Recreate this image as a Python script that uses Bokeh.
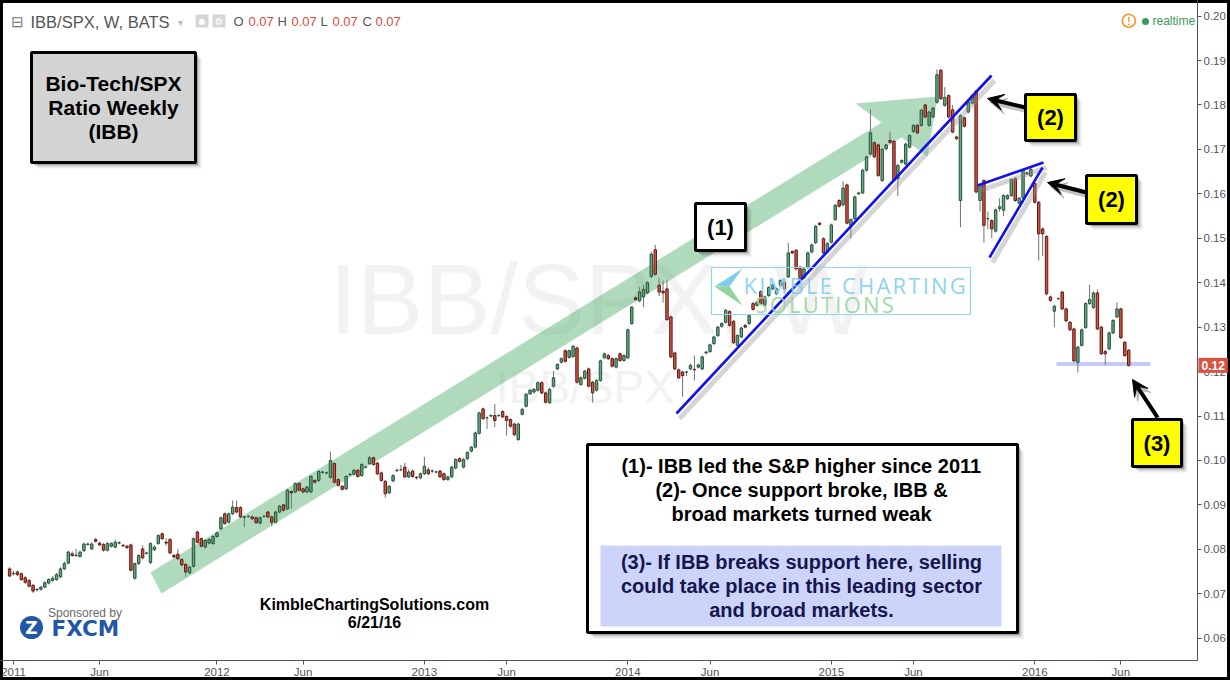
import numpy as np
from bokeh.plotting import figure
from bokeh.models import Range1d, FixedTicker, NumeralTickFormatter, Label, Arrow, VeeHead
from bokeh.core.properties import value
from bokeh.embed import file_html
from bokeh.resources import INLINE
try:
    from bokeh.models import GlobalInlineStyleSheet
except ImportError:
    GlobalInlineStyleSheet = None

# ---------------- data (weekly IBB/SPX ratio, from late Dec 2010 to 20 Jun 2016) ----------------
open_ = [.0756,.0745,.0749,.0745,.0736,.0730,.0719,.0709,.0710,.0715,.0724,.0730,.0732,.0738,.0756,.0769,.0790,.0786,.0784,.0797,
         .0811,.0801,.0822,.0814,.0811,.0798,.0807,.0805,.0814,.0809,.0807,.0810,.0735,.0768,.0801,.0791,.0770,.0799,.0813,.0835,
         .0816,.0822,.0786,.0789,.0777,.0766,.0747,.0762,.0839,.0824,.0805,.0814,.0813,.0829,.0846,.0880,.0861,.0880,.0894,.0894,
         .0872,.0874,.0873,.0871,.0859,.0874,.0884,.0873,.0861,.0884,.0900,.0891,.0930,.0929,.0948,.0936,.0929,.0929,.0955,.0955,
         .0973,.0972,.0962,.0993,.0957,.0942,.0936,.0968,.0969,.0978,.0966,.0985,.0993,.1006,.0994,.0972,.0953,.0927,.0954,.0977,
         .0979,.0985,.0963,.0976,.0962,.0961,.0970,.0979,.0976,.0974,.0976,.0970,.0957,.0963,.0983,.1004,.0985,.1004,.1021,.1030,
         .1061,.1116,.1096,.1100,.1101,.1101,.1110,.1099,.1092,.1082,.1047,.1104,.1122,.1150,.1154,.1158,.1175,.1152,.1130,.1167,
         .1206,.1221,.1247,.1232,.1234,.1253,.1171,.1185,.1206,.1176,.1158,.1180,.1231,.1236,.1229,.1210,.1240,.1225,.1231,.1308,
         .1366,.1359,.1368,.1377,.1414,.1474,.1394,.1381,.1386,.1323,.1242,.1204,.1199,.1199,.1206,.1205,.1210,.1206,.1242,.1245,
         .1263,.1281,.1302,.1311,.1335,.1313,.1259,.1278,.1304,.1308,.1353,.1349,.1380,.1349,.1371,.1386,.1375,.1394,.1401,.1413,
         .1470,.1473,.1435,.1411,.1434,.1469,.1490,.1534,.1499,.1469,.1491,.1542,.1585,.1575,.1620,.1529,.1544,.1600,.1602,.1653,
         .1690,.1715,.1710,.1630,.1701,.1720,.1718,.1634,.1671,.1667,.1705,.1740,.1754,.1754,.1800,.1754,.1773,.1806,.1878,.1799,
         .1821,.1789,.1728,.1585,.1771,.1784,.1804,.1831,.1585,.1630,.1544,.1540,.1516,.1567,.1563,.1589,.1596,.1634,.1579,.1591,
         .1647,.1640,.1623,.1581,.1521,.1504,.1368,.1336,.1364,.1379,.1341,.1311,.1296,.1221,.1259,.1299,.1353,.1344,.1377,.1300,
         .1245,.1251,.1287,.1323,.1341,.1266,.1248]
high = [.0760,.0752,.0753,.0748,.0740,.0733,.0722,.0713,.0718,.0728,.0735,.0740,.0747,.0760,.0773,.0797,.0795,.0801,.0797,.0815,
        .0815,.0816,.0826,.0817,.0814,.0816,.0816,.0822,.0818,.0812,.0810,.0813,.0770,.0789,.0809,.0795,.0816,.0809,.0834,.0838,
        .0825,.0825,.0790,.0800,.0780,.0770,.0763,.0827,.0842,.0827,.0823,.0825,.0832,.0840,.0874,.0883,.0883,.0910,.0910,.0897,
        .0876,.0877,.0876,.0874,.0874,.0878,.0887,.0876,.0887,.0900,.0903,.0936,.0933,.0951,.0951,.0939,.0943,.0967,.0958,.0978,
        .0977,.0975,.1020,.0996,.0960,.0945,.0967,.0972,.0981,.0981,.0994,.0988,.1010,.1009,.0997,.0975,.0956,.0945,.0969,.0982,
        .0990,.0995,.0980,.0980,.0965,.0973,.1008,.0985,.0980,.0977,.0979,.0973,.0966,.0988,.1005,.1007,.1005,.1021,.1033,.1065,
        .1110,.1119,.1099,.1104,.1127,.1104,.1113,.1102,.1095,.1085,.1085,.1118,.1152,.1161,.1163,.1178,.1178,.1155,.1163,.1201,
        .1219,.1232,.1250,.1250,.1260,.1256,.1189,.1204,.1209,.1179,.1183,.1227,.1243,.1239,.1232,.1232,.1243,.1239,.1297,.1348,
        .1369,.1390,.1395,.1403,.1470,.1485,.1410,.1405,.1405,.1326,.1245,.1207,.1202,.1202,.1218,.1236,.1218,.1236,.1247,.1263,
        .1281,.1303,.1311,.1341,.1338,.1316,.1284,.1301,.1307,.1329,.1356,.1359,.1383,.1371,.1392,.1398,.1389,.1408,.1404,.1490,
        .1473,.1476,.1438,.1434,.1470,.1488,.1530,.1537,.1502,.1491,.1533,.1577,.1588,.1628,.1623,.1545,.1596,.1605,.1656,.1686,
        .1790,.1718,.1713,.1703,.1713,.1740,.1721,.1667,.1678,.1715,.1734,.1757,.1757,.1791,.1803,.1787,.1796,.1880,.1881,.1840,
        .1824,.1800,.1731,.1779,.1774,.1809,.1824,.1834,.1622,.1633,.1560,.1543,.1567,.1590,.1599,.1599,.1635,.1637,.1593,.1656,
        .1650,.1658,.1626,.1584,.1524,.1507,.1371,.1350,.1367,.1382,.1344,.1314,.1299,.1258,.1297,.1356,.1395,.1380,.1385,.1303,
        .1248,.1290,.1318,.1356,.1344,.1269,.1251]
low = [.0737,.0741,.0740,.0729,.0722,.0714,.0702,.0705,.0707,.0712,.0721,.0727,.0729,.0735,.0753,.0766,.0783,.0782,.0781,.0794,
       .0808,.0798,.0815,.0807,.0795,.0795,.0804,.0802,.0811,.0805,.0800,.0750,.0732,.0765,.0778,.0788,.0767,.0796,.0810,.0821,
       .0808,.0789,.0780,.0776,.0762,.0738,.0744,.0759,.0813,.0804,.0802,.0811,.0810,.0826,.0843,.0855,.0858,.0877,.0881,.0870,
       .0850,.0871,.0866,.0857,.0856,.0871,.0870,.0852,.0858,.0881,.0885,.0888,.0891,.0926,.0930,.0926,.0926,.0926,.0948,.0952,
       .0970,.0969,.0959,.0948,.0941,.0932,.0933,.0965,.0966,.0961,.0963,.0982,.0990,.0988,.0967,.0952,.0916,.0924,.0951,.0974,
       .0976,.0960,.0960,.0961,.0957,.0958,.0967,.0967,.0972,.0971,.0960,.0954,.0954,.0960,.0980,.0995,.0982,.1001,.1018,.1027,
       .1058,.1091,.1071,.1097,.1075,.1098,.1095,.1056,.1074,.1055,.1044,.1101,.1119,.1147,.1151,.1155,.1149,.1128,.1127,.1164,
       .1203,.1218,.1220,.1229,.1231,.1173,.1168,.1182,.1164,.1130,.1155,.1177,.1228,.1226,.1209,.1207,.1222,.1222,.1228,.1305,
       .1359,.1356,.1345,.1374,.1411,.1416,.1370,.1355,.1314,.1230,.1203,.1183,.1143,.1190,.1203,.1180,.1207,.1203,.1239,.1242,
       .1260,.1278,.1299,.1308,.1301,.1262,.1256,.1275,.1297,.1305,.1337,.1346,.1350,.1346,.1368,.1383,.1372,.1391,.1383,.1410,
       .1464,.1428,.1406,.1408,.1431,.1466,.1487,.1528,.1464,.1466,.1488,.1539,.1569,.1572,.1531,.1500,.1541,.1597,.1599,.1650,
       .1687,.1680,.1638,.1627,.1698,.1713,.1627,.1595,.1668,.1664,.1702,.1737,.1734,.1751,.1770,.1751,.1770,.1803,.1811,.1796,
       .1770,.1736,.1721,.1525,.1749,.1781,.1801,.1601,.1560,.1490,.1520,.1500,.1513,.1560,.1550,.1586,.1593,.1582,.1576,.1588,
       .1642,.1637,.1578,.1450,.1460,.1372,.1357,.1300,.1361,.1338,.1311,.1291,.1221,.1198,.1256,.1296,.1350,.1341,.1293,.1237,
       .1215,.1248,.1284,.1320,.1273,.1233,.1211]
close = [.0740,.0746,.0743,.0732,.0726,.0717,.0706,.0710,.0715,.0725,.0732,.0735,.0743,.0756,.0768,.0794,.0786,.0787,.0794,.0812,
         .0812,.0812,.0818,.0810,.0798,.0813,.0813,.0816,.0815,.0808,.0804,.0753,.0768,.0786,.0781,.0792,.0813,.0805,.0831,.0824,
         .0814,.0792,.0783,.0779,.0765,.0749,.0760,.0824,.0816,.0807,.0820,.0822,.0829,.0837,.0871,.0858,.0880,.0895,.0884,.0873,
         .0873,.0874,.0869,.0860,.0871,.0874,.0873,.0861,.0884,.0897,.0888,.0933,.0927,.0948,.0933,.0929,.0940,.0964,.0951,.0975,
         .0974,.0972,.1000,.0951,.0944,.0935,.0964,.0969,.0978,.0964,.0991,.0985,.1006,.0991,.0970,.0955,.0925,.0942,.0966,.0978,
         .0979,.0963,.0974,.0964,.0961,.0970,.0987,.0970,.0976,.0974,.0963,.0957,.0963,.0985,.1002,.0998,.1002,.1018,.1030,.1062,
         .1107,.1094,.1096,.1101,.1090,.1101,.1098,.1090,.1077,.1058,.1082,.1115,.1149,.1158,.1160,.1175,.1152,.1131,.1160,.1186,
         .1216,.1229,.1223,.1247,.1257,.1176,.1186,.1201,.1167,.1152,.1180,.1224,.1240,.1229,.1212,.1229,.1225,.1236,.1294,.1345,
         .1362,.1379,.1385,.1400,.1464,.1419,.1379,.1377,.1317,.1233,.1206,.1186,.1191,.1199,.1214,.1204,.1215,.1233,.1244,.1260,
         .1278,.1300,.1308,.1338,.1304,.1265,.1281,.1298,.1300,.1326,.1340,.1356,.1353,.1368,.1389,.1395,.1386,.1405,.1386,.1467,
         .1467,.1431,.1409,.1431,.1467,.1485,.1527,.1531,.1467,.1488,.1530,.1574,.1572,.1613,.1534,.1542,.1593,.1602,.1653,.1683,
         .1737,.1683,.1641,.1700,.1710,.1716,.1630,.1664,.1675,.1712,.1731,.1754,.1737,.1788,.1773,.1784,.1793,.1868,.1814,.1817,
         .1773,.1739,.1724,.1776,.1752,.1806,.1821,.1604,.1619,.1529,.1544,.1521,.1564,.1571,.1596,.1596,.1632,.1585,.1590,.1653,
         .1645,.1655,.1581,.1510,.1510,.1375,.1360,.1347,.1364,.1341,.1314,.1294,.1224,.1255,.1294,.1353,.1362,.1377,.1296,.1240,
         .1240,.1287,.1315,.1341,.1276,.1236,.1214]

# x-axis: bar index of the first weekly bar of each labelled month
tick_idx = [1, 23, 53, 75, 106, 127, 158, 179, 210, 231, 262, 284]
tick_lab = ["2011", "Jun", "2012", "Jun", "2013", "Jun", "2014", "Jun", "2015", "Jun", "2016", "Jun"]
price_ticks = [0.06, 0.07, 0.08, 0.09, 0.10, 0.11, 0.12, 0.13, 0.14, 0.15, 0.16, 0.17, 0.18, 0.19, 0.20]
support_level = 0.1217
last_close_label = "0.12"

# ---------------- helpers: reference pixel -> data coordinates ----------------
def X(px):
    return (px - 9.1) / 3.913

def Y(py):
    return 0.19 - (py - 60) / 4444.0

o = np.array(open_); h = np.array(high); l = np.array(low); c = np.array(close)
x = np.arange(len(o))
inc = c >= o
dec = ~inc

# visible window is 1230 x 680; an extra strip below (off-screen) hosts the price marker panel
p = figure(width=1230, height=704, output_backend="svg", toolbar_location=None, title=None,
           x_range=Range1d(X(0), X(1197)), y_range=Range1d(Y(660), Y(0)),
           y_axis_location="right", min_border_left=0, min_border_top=0,
           min_border_right=33, min_border_bottom=44)
p.outline_line_color = None
p.grid.visible = False
p.background_fill_color = None
p.border_fill_color = None
p.styles = {"box-shadow": ("inset 0 -24px 0 0 #ffffff, inset 0 -27px 0 0 #000000, inset 3px 0 0 0 #000000, "
                           "inset -3px 0 0 0 #000000, inset 0 3px 0 0 #000000"),
            "background-color": "white"}
if GlobalInlineStyleSheet is not None:
    p.stylesheets = [GlobalInlineStyleSheet(css="html, body { overflow: hidden !important; }")]

ya = p.yaxis[0]
ya.ticker = FixedTicker(ticks=price_ticks)
ya.formatter = NumeralTickFormatter(format="0.00")
xa = p.xaxis[0]
xa.ticker = FixedTicker(ticks=tick_idx)
xa.major_label_overrides = {int(k): v for k, v in zip(tick_idx, tick_lab)}
for ax in (xa, ya):
    ax.axis_line_color = "#555555"
    ax.major_tick_line_color = "#555555"
    ax.minor_tick_line_color = None
    ax.major_tick_in = 0
    ax.major_tick_out = 4
    ax.major_label_text_font = "Liberation Sans"
    ax.major_label_text_font_size = "11.5px"
    ax.major_label_text_color = "#555555"
ya.major_label_standoff = 2
xa.major_label_standoff = 1


def txt(px, py, s, size, color="black", bold=True, align="center", font="Liberation Sans",
        level="overlay", alpha=1.0, italic=False):
    style = "bold" if bold else "normal"
    if italic:
        style = "bold italic" if bold else "italic"
    r = p.text(x=[X(px)], y=[Y(py)], text=[s], text_font=value(font), text_font_size=f"{size}px",
               text_font_style=style, text_color=color, text_align=align, text_baseline="middle",
               text_alpha=alpha)
    r.level = level
    return r


def box(lft, rgt, top, bot, fill, lw=3, shadow=True, line="black"):
    if shadow:
        for off, a in ((6, 0.08), (4, 0.14), (2.5, 0.2)):
            s = p.quad(left=[X(lft + off)], right=[X(rgt + off)], top=[Y(top + off)], bottom=[Y(bot + off)],
                       fill_color="black", fill_alpha=a, line_color=None)
            s.level = "overlay"
    r = p.quad(left=[X(lft)], right=[X(rgt)], top=[Y(top)], bottom=[Y(bot)],
               fill_color=fill, line_color=line, line_width=lw)
    r.level = "overlay"


def seg_line(x0, y0, x1, y1, color, width, alpha=1.0, level="glyph"):
    r = p.line(x=[X(x0), X(x1)], y=[Y(y0), Y(y1)], line_color=color, line_width=width, line_alpha=alpha)
    r.level = level

# ---------------- watermark ----------------
txt(598, 298, "IBB/SPX, W", 100, color="#f2f2f2", bold=False, level="underlay")
txt(585, 386, "IBB/SPX", 46, color="#f2f2f2", bold=False, level="underlay")

# ---------------- big green arrow ----------------
arrow_px = [(150, 572), (881, 122), (855, 103), (937, 96), (927, 156), (901, 137), (161, 593)]
p.patch(x=[X(a) for a, b in arrow_px], y=[Y(b) for a, b in arrow_px],
        fill_color="#4fae6a", fill_alpha=0.45, line_color=None)

# support band
p.quad(left=[X(1056)], right=[X(1150)], top=[support_level + 0.00045], bottom=[support_level - 0.00045],
       fill_color="#c3cbf6", line_color=None)

# ---------------- candles ----------------
p.segment(x0=x, y0=h, x1=x, y1=l, line_color="#737375", line_width=1)
p.vbar(x=x[inc], top=c[inc], bottom=o[inc], width=0.62, fill_color="#6ba583", line_color="#225437", line_width=1)
p.vbar(x=x[dec], top=o[dec], bottom=c[dec], width=0.62, fill_color="#d75442", line_color="#5b1a13", line_width=1)

# ---------------- trend lines ----------------
for (x0, y0, x1, y1) in [(676, 413, 991, 75), (977, 185, 1043, 162), (989, 257, 1042, 167)]:
    seg_line(x0 + 3, y0 + 5, x1 + 3, y1 + 5, "#888888", 5, 0.35)
    seg_line(x0, y0, x1, y1, "#1010f0", 2.6)

# ---------------- Kimble logo watermark ----------------
kb = p.quad(left=[X(711)], right=[X(970)], top=[Y(267)], bottom=[Y(314)], fill_color=None,
            line_color="#8fd6f0", line_width=1.2)
kb.level = "overlay"
pb = p.patch(x=[X(714), X(742), X(729)], y=[Y(286), Y(268), Y(286)], fill_color="#7fcdee", line_color=None)
pb.level = "overlay"
pg = p.patch(x=[X(714), X(729), X(742)], y=[Y(286), Y(286), Y(305)], fill_color="#92d59c", line_color=None)
pg.level = "overlay"
hair = "\u200a"
txt(743, 284, hair.join("KIMBLE CHARTING"), 22, color="#7fcdee", bold=False, align="left", font="Open Sans", alpha=0.9)
txt(755, 303, hair.join("SOLUTIONS"), 22, color="#92d59c", bold=False, align="left", font="Open Sans", alpha=0.9)

# ---------------- header ----------------
txt(17, 21, "⊟", 15, color="#777777", bold=False, font="DejaVu Sans")
txt(30, 21, "IBB/SPX, W, BATS", 16.5, color="#555555", bold=False, align="left")
txt(180, 22, "▾", 10, color="#bbbbbb", bold=False, font="DejaVu Sans")
for lx in (195, 212):
    q = p.quad(left=[X(lx)], right=[X(lx + 13)], top=[Y(14)], bottom=[Y(27)], fill_color="#d6d6d6", line_color=None)
    q.level = "overlay"
txt(201.5, 20.5, "●", 8, color="white", bold=False, font="DejaVu Sans")
txt(218.5, 20.5, "⚙", 10, color="white", bold=False, font="DejaVu Sans")
for lx, s, col in [(233, "O", "#555555"), (248, "0.07", "#e0483a"), (277, "H", "#555555"), (291, "0.07", "#e0483a"),
                   (320, "L", "#555555"), (332, "0.07", "#e0483a"), (362, "C", "#555555"), (375, "0.07", "#e0483a")]:
    txt(lx, 21, s, 13, color=col, bold=False, align="left")

# realtime indicator
oc = p.scatter(x=[X(1128.3)], y=[Y(20.3)], size=13, marker="circle", fill_color="white",
               line_color="#f7931e", line_width=1.6)
oc.level = "overlay"
txt(1128.3, 20.8, "!", 10, color="#f7931e", bold=True)
gd = p.scatter(x=[X(1145)], y=[Y(21)], size=7, marker="circle", fill_color="#3a9a5c", line_color=None)
gd.level = "overlay"
txt(1152, 20.5, "realtime", 12, color="#3a9a5c", bold=False, align="left")

# ---------------- boxes ----------------
box(31, 195, 52, 162, "#d3d3d3")
txt(113, 83, "Bio-Tech/SPX", 21)
txt(113, 107, "Ratio Weekly", 21)
txt(113, 131, "(IBB)", 21)

box(695, 745, 203, 250, "white")
txt(720, 227, "(1)", 22)

box(1025, 1075, 94, 140, "#ffff00")
txt(1050, 117, "(2)", 22)
box(1086, 1136, 175, 223, "#ffff00")
txt(1111, 199, "(2)", 22)
box(1132, 1181, 419, 466, "#ffff00")
txt(1156.5, 443, "(3)", 22)

box(587, 1017, 444, 632, "white")
inner = p.quad(left=[X(600)], right=[X(1001)], top=[Y(545)], bottom=[Y(626)], fill_color="#ccd4f9", line_color=None)
inner.level = "overlay"
txt(801, 465, "(1)- IBB led the S&P higher since 2011", 20)
txt(801, 489, "(2)- Once support broke, IBB &", 20)
txt(801, 513, "broad markets turned weak", 20)
txt(801, 561, "(3)- If IBB breaks support here, selling", 20, color="#16164f")
txt(801, 585, "could take place in this leading sector", 20, color="#16164f")
txt(801, 609, "and broad markets.", 20, color="#16164f")

# site / date
txt(374, 604, "KimbleChartingSolutions.com", 16)
txt(374, 622, "6/21/16", 16)

# sponsor (FXCM)
txt(84.5, 612.5, "Sponsored by", 12, color="#6a6a6a", bold=False)
fx = p.scatter(x=[X(31)], y=[Y(627)], size=23, marker="circle", fill_color="#2256a6", line_color=None)
fx.level = "overlay"
txt(31, 627.5, "Z", 17, color="white", bold=True, font="DejaVu Sans")
txt(51, 628, "FXCM", 21.5, color="#2256a6", bold=True, align="left", font="DejaVu Sans")

# ---------------- black call-out arrows ----------------
for (x0, y0, x1, y1) in [(1025, 107, 987, 98), (1086, 192, 1047, 182), (1157, 417, 1132, 379)]:
    sh = Arrow(end=VeeHead(size=16, fill_color="#888888", line_color="#888888", fill_alpha=0.5, line_alpha=0.5),
               x_start=X(x0 + 3), y_start=Y(y0 + 4), x_end=X(x1 + 3), y_end=Y(y1 + 4),
               line_color="#888888", line_alpha=0.5, line_width=4)
    p.add_layout(sh)
    ar = Arrow(end=VeeHead(size=16, fill_color="black", line_color="black"),
               x_start=X(x0), y_start=Y(y0), x_end=X(x1), y_end=Y(y1),
               line_color="black", line_width=4)
    p.add_layout(ar)

# last price marker on the price axis (hosted in a side panel so it is not clipped to the frame)
lab = Label(x=X(1198), y=close[-1], text=last_close_label, text_color="white",
            text_font_size="12px", text_font_style="bold", text_font="Liberation Sans",
            background_fill_color="#d75442", text_baseline="middle", text_align="left", padding=3)
p.add_layout(lab, "below")

open("out.html", "w").write(file_html(p, INLINE))
